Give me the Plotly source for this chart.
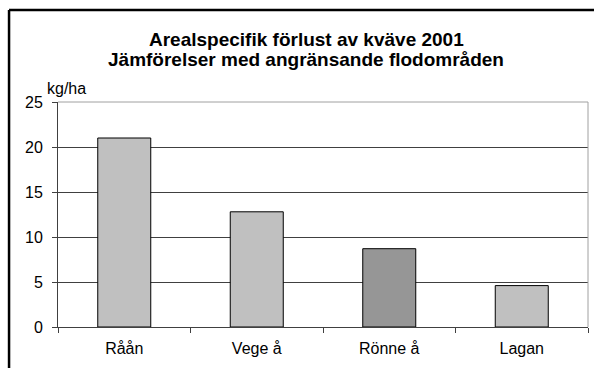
import plotly.graph_objects as go

# Area-specific nitrogen loss 2001 (kg/ha) for neighbouring river basins
rivers = ["Råån", "Vege å", "Rönne å", "Lagan"]
loss_kg_ha = [21.0, 12.8, 8.7, 4.6]
bar_colors = ["#C0C0C0", "#C0C0C0", "#969696", "#C0C0C0"]
y_ticks = [0, 5, 10, 15, 20, 25]

title_lines = ["Arealspecifik förlust av kväve 2001",
               "Jämförelser med angränsande flodområden"]
unit_label = "kg/ha"

W, H = 594, 368
L, R, T, B = 58, 5.5, 102, 41
pw, ph = W - L - R, H - T - B


def px_x(x):
    return (x - L) / pw


def px_y(y):
    return (H - B - y) / ph


FONT = "Liberation Sans, Arial, sans-serif"

fig = go.Figure(
    go.Bar(
        x=rivers,
        y=loss_kg_ha,
        width=0.4,
        marker=dict(color=bar_colors, line=dict(color="#000000", width=1)),
        hoverinfo="x+y",
    )
)

fig.update_layout(
    width=W,
    height=H,
    margin=dict(l=L, r=R, t=T, b=B, pad=0),
    paper_bgcolor="white",
    plot_bgcolor="white",
    showlegend=False,
    font=dict(family=FONT, size=16, color="#000000"),
    xaxis=dict(
        type="category",
        tickson="boundaries",
        ticks="outside",
        ticklen=5,
        tickcolor="#404040",
        showline=True,
        linecolor="#404040",
        linewidth=1,
        showgrid=False,
        tickfont=dict(size=16),
        ticklabelstandoff=7,
        range=[-0.5, 3.5],
    ),
    yaxis=dict(
        range=[0, 25],
        tickvals=y_ticks,
        ticks="outside",
        ticklen=5,
        tickcolor="#404040",
        showline=True,
        linecolor="#404040",
        linewidth=1,
        showgrid=True,
        gridcolor="#404040",
        gridwidth=1,
        zeroline=False,
        tickfont=dict(size=16),
        ticklabelstandoff=6,
    ),
    annotations=[
        dict(text="<b>%s</b>" % title_lines[0], x=px_x(306.5), y=px_y(39.5),
             xref="paper", yref="paper", xanchor="center", yanchor="middle",
             showarrow=False, font=dict(size=19)),
        dict(text="<b>%s</b>" % title_lines[1], x=px_x(306.5), y=px_y(59.5),
             xref="paper", yref="paper", xanchor="center", yanchor="middle",
             showarrow=False, font=dict(size=19)),
        dict(text=unit_label, x=px_x(45), y=px_y(88), xref="paper", yref="paper",
             xanchor="left", yanchor="middle", showarrow=False,
             font=dict(size=16)),
    ],
    shapes=[
        # light plot-area border on the top and right sides
        dict(type="line", xref="paper", yref="paper", x0=0, x1=1, y0=1, y1=1,
             line=dict(color="#A0A0A0", width=1), layer="above"),
        dict(type="line", xref="paper", yref="paper", x0=1, x1=1, y0=0, y1=1,
             line=dict(color="#A0A0A0", width=1), layer="above"),
        # outer chart frame
        dict(type="line", xref="paper", yref="paper",
             x0=px_x(9), x1=px_x(9), y0=px_y(10), y1=px_y(H + 5),
             line=dict(color="#000000", width=2.5), layer="above"),
        dict(type="line", xref="paper", yref="paper",
             x0=px_x(9), x1=px_x(W + 5), y0=px_y(10), y1=px_y(10),
             line=dict(color="#000000", width=2.5), layer="above"),
    ],
)

fig.write_html("out.html")
